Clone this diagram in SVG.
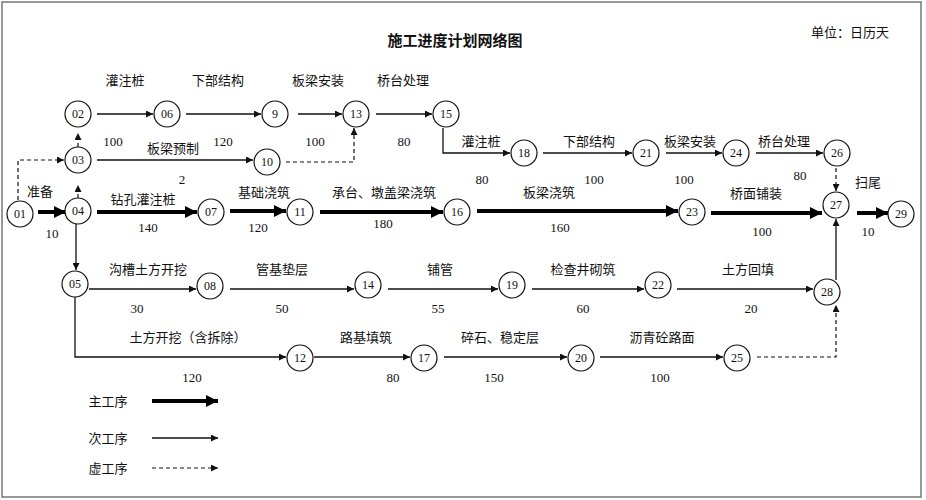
<svg xmlns="http://www.w3.org/2000/svg" width="926" height="500" viewBox="0 0 926 500">
<style>
text{font-family:"Liberation Serif","Noto Sans CJK SC",serif;font-size:13px;fill:#111}
.n circle{fill:#fff;stroke:#111;stroke-width:1.2}
.n text{text-anchor:middle;font-size:12px}
.thin{stroke:#111;stroke-width:1.3;fill:none;marker-end:url(#a)}
.thick{stroke:#000;stroke-width:4;fill:none;marker-end:url(#b)}
.dash{stroke:#111;stroke-width:1.2;fill:none;stroke-dasharray:4 3;marker-end:url(#a)}
.m{text-anchor:middle}
</style>
<defs>
<marker id="a" viewBox="0 0 10 10" refX="10" refY="5" markerWidth="7" markerHeight="7" markerUnits="userSpaceOnUse" orient="auto"><path d="M0,0L10,5L0,10z" fill="#111"/></marker>
<marker id="b" viewBox="0 0 10 10" refX="10" refY="5" markerWidth="3" markerHeight="3" orient="auto"><path d="M0,0L10,5L0,10z" fill="#000"/></marker>
</defs>
<rect x="2" y="2" width="919" height="495" fill="#fff" stroke="#777" stroke-width="1.5"/>
<text x="455" y="46" class="m" style="font-size:15px;font-weight:bold">施工进度计划网络图</text>
<text x="850" y="37" class="m">单位：日历天</text>
<g id="connectors">
<path class="thick" d="M38,212H66"/>
<path class="dash" d="M18,200V160H64"/>
<path class="dash" d="M78,198V185"/>
<path class="dash" d="M78,147V133"/>
<path class="thin" d="M97,114H153"/>
<path class="thin" d="M186,114H261"/>
<path class="thin" d="M298,114H342"/>
<path class="thin" d="M376,114H432"/>
<path class="thin" d="M97,160H253"/>
<path class="dash" d="M286,162H354V128"/>
<path class="thin" d="M443,128V153H510"/>
<path class="thin" d="M543,153H632"/>
<path class="thin" d="M666,153H722"/>
<path class="thin" d="M756,153H823"/>
<path class="dash" d="M836,168V191"/>
<path class="thick" d="M97,212H197"/>
<path class="thick" d="M230,211H286"/>
<path class="thick" d="M320,212H443"/>
<path class="thick" d="M477,211H678"/>
<path class="thick" d="M711,213H822"/>
<path class="thick" d="M857,213H888"/>
<path class="thin" d="M76,224V270"/>
<path class="thin" d="M89,289H196"/>
<path class="thin" d="M230,289H354"/>
<path class="thin" d="M388,289H498"/>
<path class="thin" d="M532,289H644"/>
<path class="thin" d="M677,289H813"/>
<path class="thin" d="M75,297V357H286"/>
<path class="thin" d="M314,357H410"/>
<path class="thin" d="M444,357H567"/>
<path class="thin" d="M600,357H723"/>
<path class="dash" d="M757,357H836V305"/>
<path class="thin" d="M836,280V219"/>
<path class="thick" d="M152,401H218"/>
<path class="thin" d="M152,438H218"/>
<path class="dash" d="M152,468H218"/>
</g>
<g class="n" id="n01"><circle cx="20" cy="214" r="13"/><text x="20" y="218">01</text></g>
<g class="n" id="n02"><circle cx="78" cy="114" r="13"/><text x="78" y="118">02</text></g>
<g class="n" id="n03"><circle cx="78" cy="160" r="13"/><text x="78" y="164">03</text></g>
<g class="n" id="n04"><circle cx="78" cy="211" r="13"/><text x="78" y="215">04</text></g>
<g class="n" id="n05"><circle cx="75" cy="284" r="13"/><text x="75" y="288">05</text></g>
<g class="n" id="n06"><circle cx="167" cy="114" r="13"/><text x="167" y="118">06</text></g>
<g class="n" id="n07"><circle cx="211" cy="212" r="13"/><text x="211" y="216">07</text></g>
<g class="n" id="n08"><circle cx="210" cy="286" r="13"/><text x="210" y="290">08</text></g>
<g class="n" id="n9"><circle cx="275" cy="114" r="13"/><text x="275" y="118">9</text></g>
<g class="n" id="n10"><circle cx="267" cy="162" r="13"/><text x="267" y="166">10</text></g>
<g class="n" id="n11"><circle cx="300" cy="212" r="13"/><text x="300" y="216">11</text></g>
<g class="n" id="n12"><circle cx="300" cy="358" r="13"/><text x="300" y="362">12</text></g>
<g class="n" id="n13"><circle cx="356" cy="114" r="13"/><text x="356" y="118">13</text></g>
<g class="n" id="n14"><circle cx="368" cy="285" r="13"/><text x="368" y="289">14</text></g>
<g class="n" id="n15"><circle cx="446" cy="114" r="13"/><text x="446" y="118">15</text></g>
<g class="n" id="n16"><circle cx="457" cy="212" r="13"/><text x="457" y="216">16</text></g>
<g class="n" id="n17"><circle cx="424" cy="358" r="13"/><text x="424" y="362">17</text></g>
<g class="n" id="n18"><circle cx="524" cy="153" r="13"/><text x="524" y="157">18</text></g>
<g class="n" id="n19"><circle cx="512" cy="285" r="13"/><text x="512" y="289">19</text></g>
<g class="n" id="n20"><circle cx="581" cy="358" r="13"/><text x="581" y="362">20</text></g>
<g class="n" id="n21"><circle cx="646" cy="153" r="13"/><text x="646" y="157">21</text></g>
<g class="n" id="n22"><circle cx="658" cy="285" r="13"/><text x="658" y="289">22</text></g>
<g class="n" id="n23"><circle cx="692" cy="212" r="13"/><text x="692" y="216">23</text></g>
<g class="n" id="n24"><circle cx="736" cy="153" r="13"/><text x="736" y="157">24</text></g>
<g class="n" id="n25"><circle cx="737" cy="358" r="13"/><text x="737" y="362">25</text></g>
<g class="n" id="n26"><circle cx="837" cy="153" r="13"/><text x="837" y="157">26</text></g>
<g class="n" id="n27"><circle cx="836" cy="205" r="13"/><text x="836" y="209">27</text></g>
<g class="n" id="n28"><circle cx="827" cy="292" r="13"/><text x="827" y="296">28</text></g>
<g class="n" id="n29"><circle cx="901" cy="214" r="13"/><text x="901" y="218">29</text></g>
<g id="labels">
<text x="125" y="85" class="m">灌注桩</text>
<text x="218" y="85" class="m">下部结构</text>
<text x="318" y="85" class="m">板梁安装</text>
<text x="403" y="85" class="m">桥台处理</text>
<text x="113" y="146" class="m">100</text>
<text x="223" y="146" class="m">120</text>
<text x="315" y="146" class="m">100</text>
<text x="404" y="146" class="m">80</text>
<text x="173" y="153" class="m">板梁预制</text>
<text x="182" y="184" class="m">2</text>
<text x="40" y="196" class="m">准备</text>
<text x="52" y="238" class="m">10</text>
<text x="143" y="204" class="m">钻孔灌注桩</text>
<text x="148" y="232" class="m">140</text>
<text x="264" y="197" class="m">基础浇筑</text>
<text x="258" y="232" class="m">120</text>
<text x="384" y="197" class="m">承台、墩盖梁浇筑</text>
<text x="383" y="228" class="m">180</text>
<text x="481" y="146" class="m">灌注桩</text>
<text x="482" y="184" class="m">80</text>
<text x="589" y="146" class="m">下部结构</text>
<text x="594" y="184" class="m">100</text>
<text x="690" y="146" class="m">板梁安装</text>
<text x="684" y="184" class="m">100</text>
<text x="784" y="146" class="m">桥台处理</text>
<text x="800" y="180" class="m">80</text>
<text x="549" y="197" class="m">板梁浇筑</text>
<text x="560" y="232" class="m">160</text>
<text x="756" y="198" class="m">桥面铺装</text>
<text x="762" y="236" class="m">100</text>
<text x="868" y="187" class="m">扫尾</text>
<text x="868" y="236" class="m">10</text>
<text x="148" y="274" class="m">沟槽土方开挖</text>
<text x="137" y="313" class="m">30</text>
<text x="282" y="274" class="m">管基垫层</text>
<text x="282" y="313" class="m">50</text>
<text x="440" y="274" class="m">铺管</text>
<text x="438" y="313" class="m">55</text>
<text x="583" y="274" class="m">检查井砌筑</text>
<text x="583" y="313" class="m">60</text>
<text x="748" y="274" class="m">土方回填</text>
<text x="751" y="313" class="m">20</text>
<text x="188" y="342" class="m">土方开挖（含拆除）</text>
<text x="192" y="382" class="m">120</text>
<text x="366" y="342" class="m">路基填筑</text>
<text x="393" y="382" class="m">80</text>
<text x="500" y="342" class="m">碎石、稳定层</text>
<text x="494" y="382" class="m">150</text>
<text x="662" y="342" class="m">沥青砼路面</text>
<text x="660" y="382" class="m">100</text>
<text x="108" y="406" class="m">主工序</text>
<text x="108" y="443" class="m">次工序</text>
<text x="108" y="473" class="m">虚工序</text>
</g>
</svg>
